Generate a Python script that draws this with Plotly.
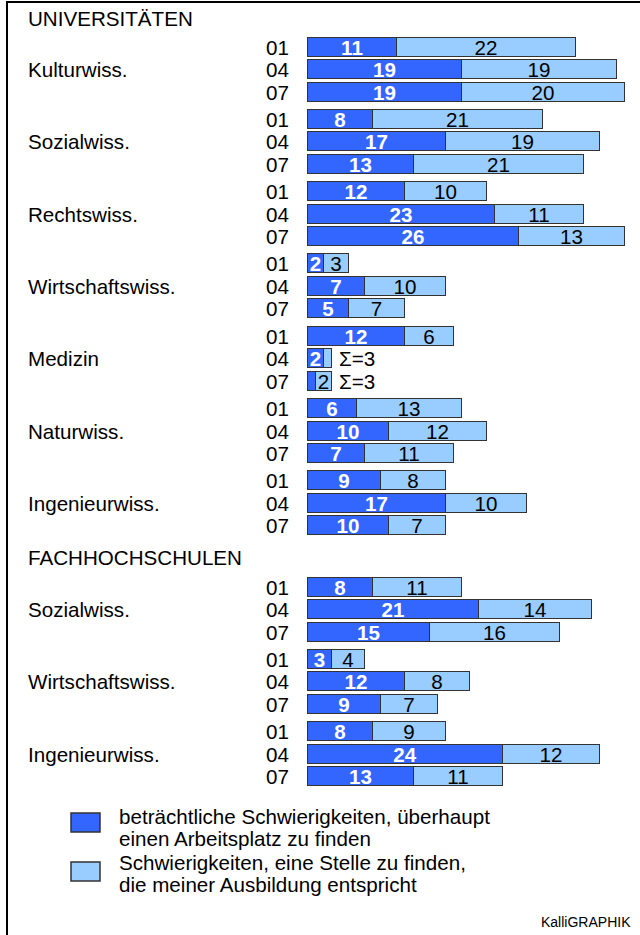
import plotly.graph_objects as go

# ---- data ----
years = ["01", "04", "07"]
uni_categories = ["Kulturwiss.", "Sozialwiss.", "Rechtswiss.", "Wirtschaftswiss.",
                  "Medizin", "Naturwiss.", "Ingenieurwiss."]
uni_dark = [[11, 19, 19], [8, 17, 13], [12, 23, 26], [2, 7, 5],
            [12, 2, 1], [6, 10, 7], [9, 17, 10]]
uni_light = [[22, 19, 20], [21, 19, 21], [10, 11, 13], [3, 10, 7],
             [6, 1, 2], [13, 12, 11], [8, 10, 7]]
fh_categories = ["Sozialwiss.", "Wirtschaftswiss.", "Ingenieurwiss."]
fh_dark = [[8, 21, 15], [3, 12, 9], [8, 24, 13]]
fh_light = [[11, 14, 16], [4, 8, 7], [9, 12, 11]]
section_titles = ["UNIVERSITÄTEN", "FACHHOCHSCHULEN"]
legend_lines = [["beträchtliche Schwierigkeiten, überhaupt", "einen Arbeitsplatz zu finden"],
                ["Schwierigkeiten, eine Stelle zu finden,", "die meiner Ausbildung entspricht"]]
source = "KalliGRAPHIK"

# ---- style ----
DARK = "#3366FF"
LIGHT = "#99CCFF"
EDGE = "#333333"
FONT = "Liberation Sans, Arial, sans-serif"
FS = 20.6
W, H = 640, 935
X0_PX, PX_PER_UNIT = 308, 8.12
ROW, GROUP = 22.5, 72.3
UNI_BASE, FH_BASE = 47, 587
UNI_TITLE_Y, FH_TITLE_Y = 18, 557

ys, dark, light, year_lab = [], [], [], []
cat_pos = []
for base, cats, dv, lv in [(UNI_BASE, uni_categories, uni_dark, uni_light),
                           (FH_BASE, fh_categories, fh_dark, fh_light)]:
    for g, cat in enumerate(cats):
        for r, yr in enumerate(years):
            y = base + g * GROUP + r * ROW
            ys.append(y)
            dark.append(dv[g][r])
            light.append(lv[g][r])
            year_lab.append((yr, y))
        cat_pos.append((cat, base + g * GROUP + ROW))

fig = go.Figure()
fig.add_trace(go.Bar(
    y=ys, x=dark, orientation="h", width=19,
    marker=dict(color=DARK, line=dict(color=EDGE, width=1)),
    text=[str(v) if v >= 2 else "" for v in dark],
    textposition="inside", insidetextanchor="middle", textangle=0,
    textfont=dict(color="white", size=FS, family=FONT, weight="bold"),
    hoverinfo="skip", showlegend=False))
fig.add_trace(go.Bar(
    y=ys, x=light, orientation="h", width=19,
    marker=dict(color=LIGHT, line=dict(color=EDGE, width=1)),
    text=[str(v) if v >= 2 else "" for v in light],
    textposition="inside", insidetextanchor="middle", textangle=0,
    textfont=dict(color="black", size=FS, family=FONT),
    hoverinfo="skip", showlegend=False))

def txt(x, y, s, xref="paper", anchor="left", size=FS):
    return dict(x=x, y=y, xref=xref, yref="y", text=s, showarrow=False,
                xanchor=anchor, yanchor="middle",
                font=dict(size=size, color="black", family=FONT))

ann = []
for d, l, y in zip(dark, light, ys):
    if d + l <= 3:
        ann.append(txt(d + l + 0.6, y, f"Σ={d + l}", xref="x"))
for yr, y in year_lab:
    ann.append(txt(264 / W, y, yr))
for cat, y in cat_pos:
    ann.append(txt(25.5 / W, y, cat))
for t, y in zip(section_titles, [UNI_TITLE_Y, FH_TITLE_Y]):
    ann.append(txt(25.5 / W, y, t))

shapes = []
for i, (lines, col) in enumerate(zip(legend_lines, [DARK, LIGHT])):
    by = 813 + i * 49
    shapes.append(dict(type="rect", xref="paper", yref="y", x0=71 / W, x1=100 / W,
                       y0=by, y1=by + 19, fillcolor=col, line=dict(color=EDGE, width=1.5)))
    for j, ln in enumerate(lines):
        ann.append(txt(117 / W, 816 + i * 46 + j * 22.5, ln))
ann.append(txt(633 / W, 922, source, anchor="right", size=14))

shapes.append(dict(type="line", xref="paper", yref="paper", x0=7 / W, x1=7 / W, y0=0, y1=1 - 2 / H,
                   line=dict(color="black", width=2)))
shapes.append(dict(type="line", xref="paper", yref="paper", x0=6 / W, x1=1, y0=1 - 2 / H, y1=1 - 2 / H,
                   line=dict(color="black", width=2)))

fig.update_layout(
    width=W, height=H, margin=dict(l=0, r=0, t=0, b=0),
    paper_bgcolor="white", plot_bgcolor="white",
    barmode="stack", bargap=0,
    xaxis=dict(range=[-X0_PX / PX_PER_UNIT, (W - X0_PX) / PX_PER_UNIT], visible=False, fixedrange=True),
    yaxis=dict(range=[H, 0], visible=False, fixedrange=True),
    uniformtext=dict(minsize=FS, mode="show"),
    annotations=ann, shapes=shapes,
    font=dict(family=FONT),
)
fig.write_html("out.html", config={"displayModeBar": False},
               post_script="document.body.style.margin='0px';")
